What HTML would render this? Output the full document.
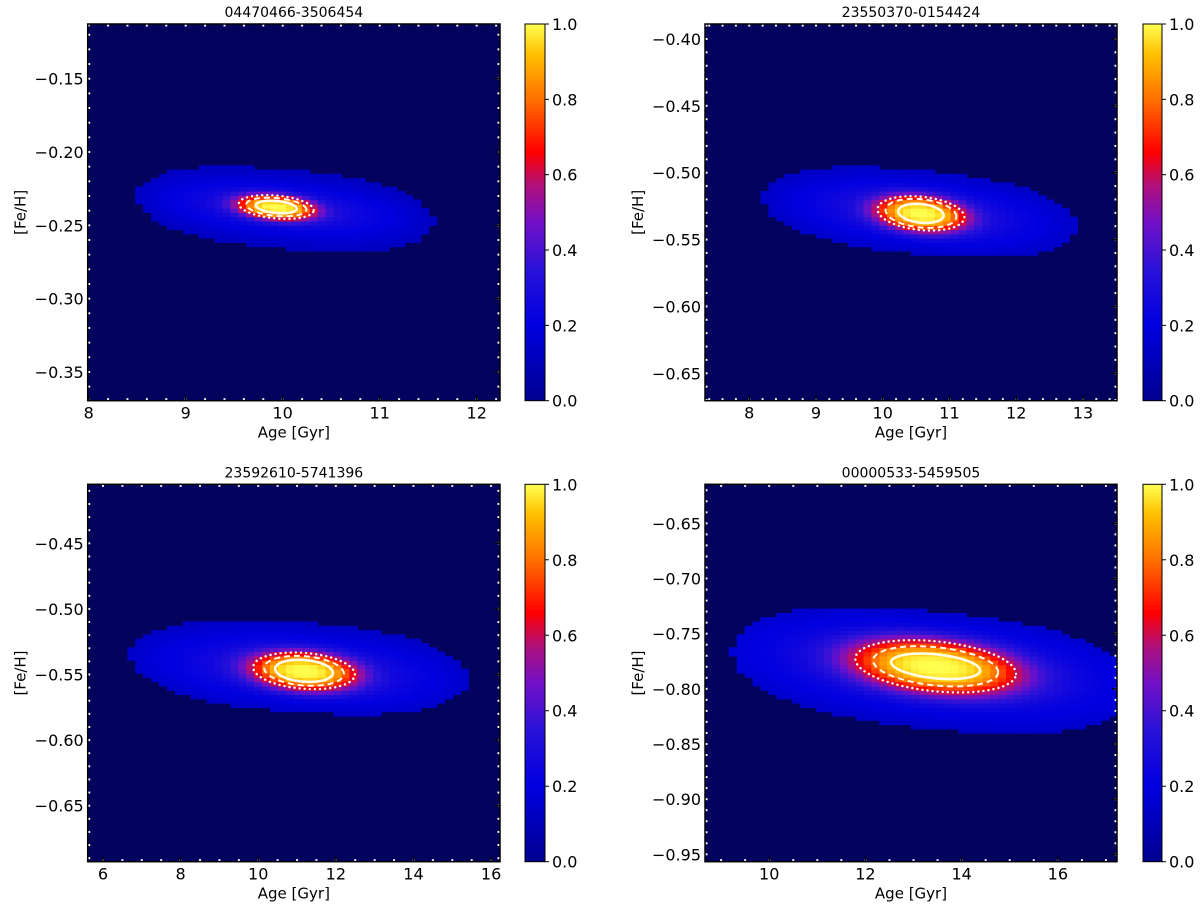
<!DOCTYPE html>
<html><head><meta charset="utf-8">
<style>
html,body{margin:0;padding:0;background:#fff;}
svg{display:block;font-family:"DejaVu Sans","Liberation Sans",sans-serif;}
</style></head>
<body>
<svg id="fig" width="1200" height="910" viewBox="0 0 1200 910">
<defs>
<linearGradient id="cmapGrad" x1="0" y1="1" x2="0" y2="0"></linearGradient>
</defs>
</svg>
<script>
const panelTitles = ["04470466-3506454","23550370-0154424","23592610-5741396","00000533-5459505"];
const xMin = [7.99, 7.337, 5.606, 8.665];
const xMax = [12.24, 13.51, 16.23, 17.23];
const yMin = [-0.3696, -0.6705, -0.6927, -0.9567];
const yMax = [-0.1127, -0.3888, -0.405, -0.6146];
const xTickVals = [[8,9,10,11,12],[8,9,10,11,12,13],[6,8,10,12,14,16],[10,12,14,16]];
const yTickVals = [[-0.35,-0.30,-0.25,-0.20,-0.15],[-0.65,-0.60,-0.55,-0.50,-0.45,-0.40],[-0.65,-0.60,-0.55,-0.50,-0.45],[-0.95,-0.90,-0.85,-0.80,-0.75,-0.70,-0.65]];
const xMinorStep = [0.2, 0.2, 0.5, 0.5];
const yMinorStep = [0.01, 0.01, 0.01, 0.01];
const envAge = [10.02, 10.55, 11.04, 13.43];
const envFeh = [-0.2389, -0.5294, -0.5443, -0.783];
const envHalfAge = [1.53, 2.35, 4.35, 4.2];
const envHalfFeh = [0.027, 0.031, 0.034, 0.053];
const envShear = [-0.0056, -0.00446, -0.0021, -0.0041];
const peakAge = [9.934, 10.573, 11.18, 13.46];
const peakFeh = [-0.2375, -0.5304, -0.5472, -0.7796];
const sig1Age = [0.211, 0.34, 0.742, 0.924];
const sig1Feh = [0.0041, 0.0070, 0.0083, 0.0109];
const sig2Age = [0.31, 0.53, 1.026, 1.30];
const sig2Feh = [0.0061, 0.0106, 0.0112, 0.0174];
const sig3Age = [0.386, 0.65, 1.31, 1.67];
const sig3Feh = [0.0078, 0.0125, 0.0137, 0.0227];
const cbarTicks = [0.0, 0.2, 0.4, 0.6, 0.8, 1.0];
const cmapPos = [0, 0.2, 0.35, 0.47, 0.57, 0.66, 0.8, 0.92, 1.0];
const cmapCol = ["#000090","#0000e0","#2a12d8","#7010c8","#b0107c","#ff0000","#ff7000","#ffc000","#ffff50"];

const NS = "http://www.w3.org/2000/svg";
const svg = document.getElementById('fig');
function mk(tag, attrs, parent){const e=document.createElementNS(NS,tag);for(const k in attrs)e.setAttribute(k,attrs[k]);(parent||svg).appendChild(e);return e;}
function hex(c){return [parseInt(c.substr(1,2),16),parseInt(c.substr(3,2),16),parseInt(c.substr(5,2),16)];}
function cmap(v){v=Math.max(0,Math.min(1,v));for(let i=1;i<cmapPos.length;i++){if(v<=cmapPos[i]){const t=(v-cmapPos[i-1])/(cmapPos[i]-cmapPos[i-1]);const a=hex(cmapCol[i-1]),b=hex(cmapCol[i]);return 'rgb('+a.map((x,j)=>Math.round(x+(b[j]-x)*t)).join(',')+')';}}return cmapCol[cmapCol.length-1];}
const grad=document.getElementById('cmapGrad');
for(let i=0;i<cmapPos.length;i++){mk('stop',{offset:cmapPos[i],'stop-color':cmapCol[i]},grad);}

const boxes=[{l:87.7,r:500,t:24,b:400.7,cl:525,cr:545},{l:705,r:1117,t:24,b:400.7,cl:1143,cr:1162},{l:87.7,r:500,t:484.3,b:861.7,cl:525,cr:545},{l:705,r:1117,t:484.3,b:861.7,cl:1143,cr:1162}];
function fmt(v,d){return (v<0?'\u2212':'')+Math.abs(v).toFixed(d);}

for(let p=0;p<4;p++){
  const B=boxes[p];
  const X=a=>B.l+(a-xMin[p])/(xMax[p]-xMin[p])*(B.r-B.l);
  const Y=f=>B.t+(yMax[p]-f)/(yMax[p]-yMin[p])*(B.b-B.t);
  const g=mk('g',{});
  
  
  const clipId='clip'+p;
  const cp=mk('clipPath',{id:clipId},g);mk('rect',{x:B.l,y:B.t,width:B.r-B.l,height:B.b-B.t},cp);
  const bg=mk('rect',{x:B.l,y:B.t,width:B.r-B.l,height:B.b-B.t,fill:'#03035e'},g);
  
  
  const hm=mk('g',{'clip-path':'url(#'+clipId+')'},g);
  
  
  const nx=52, ny=88;
  const da=(xMax[p]-xMin[p])/nx, df=(yMax[p]-yMin[p])/ny;
  for(let i=0;i<nx;i++){
    const a=xMin[p]+(i+0.5)*da;
    const u=(a-envAge[p])/envHalfAge[p];
    for(let j=0;j<ny;j++){
      const f=yMin[p]+(j+0.5)*df;
      const v=(f-envFeh[p]-envShear[p]*(a-envAge[p]))/envHalfFeh[p];
      const d=Math.pow(Math.abs(u),2.6)+v*v;
      if(d>1)continue;
      const e=0.11+0.11*(1-Math.sqrt(d));
      const cu=(a-peakAge[p])/sig3Age[p];
      const cv=(f-peakFeh[p]-envShear[p]*(a-peakAge[p]))/sig3Feh[p];
      const t=Math.sqrt(cu*cu+cv*cv);
      const mid=0.13*Math.exp(-(cu*cu/9+cv*cv/4));
      const val=e+mid+(1-e-mid)*Math.exp(-Math.pow(t/1.08,3));
      const x0=X(xMin[p]+i*da), y0=Y(yMin[p]+(j+1)*df);
      const r=mk('rect',{x:x0.toFixed(2),y:y0.toFixed(2),width:(X(xMin[p]+(i+1)*da)-x0+0.6).toFixed(2),height:(Y(yMin[p]+j*df)-y0+0.6).toFixed(2),fill:cmap(val)},hm);
      
      
    }
  }
  const cs=[[sig1Age[p],sig1Feh[p],'solid'],[sig2Age[p],sig2Feh[p],'dashed'],[sig3Age[p],sig3Feh[p],'dotted']];
  cs.forEach(c=>{
    let dstr='';
    for(let k=0;k<=120;k++){const th=k/120*2*Math.PI;const da2=c[0]*Math.cos(th);const a=peakAge[p]+da2;const f=peakFeh[p]+c[1]*Math.sin(th)+envShear[p]*da2;dstr+=(k?'L':'M')+X(a).toFixed(2)+' '+Y(f).toFixed(2);}
    const at={d:dstr+'Z',fill:'none',stroke:'#fffbe8'};
    if(c[2]==='solid'){at['stroke-width']=2.6;}
    else if(c[2]==='dashed'){at['stroke-width']=2;at['stroke-dasharray']='6 4';}
    else {at['stroke-width']=2.4;at['stroke-dasharray']='0.1 5';at['stroke-linecap']='round';}
    const pth=mk('path',at,hm);
    
    
  });
  const mt=mk('g',{stroke:'#ffffff','stroke-width':2},g);
  
  
  for(let a=Math.ceil(xMin[p]/xMinorStep[p])*xMinorStep[p];a<=xMax[p];a+=xMinorStep[p]){const x=X(a);mk('line',{x1:x,x2:x,y1:B.b,y2:B.b-2.5},mt);mk('line',{x1:x,x2:x,y1:B.t,y2:B.t+2.5},mt);}
  for(let f=Math.ceil(yMin[p]/yMinorStep[p]-1e-6)*yMinorStep[p];f<=yMax[p];f+=yMinorStep[p]){const y=Y(f);mk('line',{x1:B.l,x2:B.l+2.5,y1:y,y2:y},mt);mk('line',{x1:B.r,x2:B.r-2.5,y1:y,y2:y},mt);}
  const xt=mk('g',{},g);
  xTickVals[p].forEach(a=>{const x=X(a);mk('line',{x1:x,x2:x,y1:B.b,y2:B.b-5,stroke:'#000','stroke-width':1.5},xt);
    const tx=mk('text',{x:x,y:B.b+18,'font-size':16,'text-anchor':'middle',fill:'#000'},xt);tx.textContent=String(a);
    });
  const yt=mk('g',{},g);
  yTickVals[p].forEach(f=>{const y=Y(f);mk('line',{x1:B.r,x2:B.r-5,y1:y,y2:y,stroke:'#000','stroke-width':1.5},yt);
    const tx=mk('text',{x:B.l-4,y:y+6,'font-size':16,'text-anchor':'end',fill:'#000'},yt);tx.textContent=fmt(f,2);
    });
  mk('rect',{x:B.l,y:B.t,width:B.r-B.l,height:B.b-B.t,fill:'none',stroke:'#000','stroke-width':1.5},g);
  const ttl=mk('text',{x:(B.l+B.r)/2,y:B.t-7,'font-size':14,'text-anchor':'middle',fill:'#000'},g);ttl.textContent=panelTitles[p];
  
  const xl=mk('text',{x:(B.l+B.r)/2,y:B.b+37,'font-size':15,'text-anchor':'middle',fill:'#000'},g);xl.textContent='Age [Gyr]';
  
  const yx=B.l-62, ym=(B.t+B.b)/2;
  const yl=mk('text',{x:yx,y:ym,'font-size':15,'text-anchor':'middle',fill:'#000',transform:'rotate(-90 '+yx+' '+ym+')'},g);yl.textContent='[Fe/H]';
  
  const cb=mk('g',{},g);
  mk('rect',{x:B.cl,y:B.t,width:B.cr-B.cl,height:B.b-B.t,fill:'url(#cmapGrad)',stroke:'#000','stroke-width':1},cb);
  cbarTicks.forEach(v=>{const y=B.b-v*(B.b-B.t);mk('line',{x1:B.cr,x2:B.cr+4,y1:y,y2:y,stroke:'#000','stroke-width':1},cb);
    const tx=mk('text',{x:B.cr+7,y:y+6,'font-size':16,fill:'#000'},cb);tx.textContent=v.toFixed(1);
    });
}
</script>
</body></html>
